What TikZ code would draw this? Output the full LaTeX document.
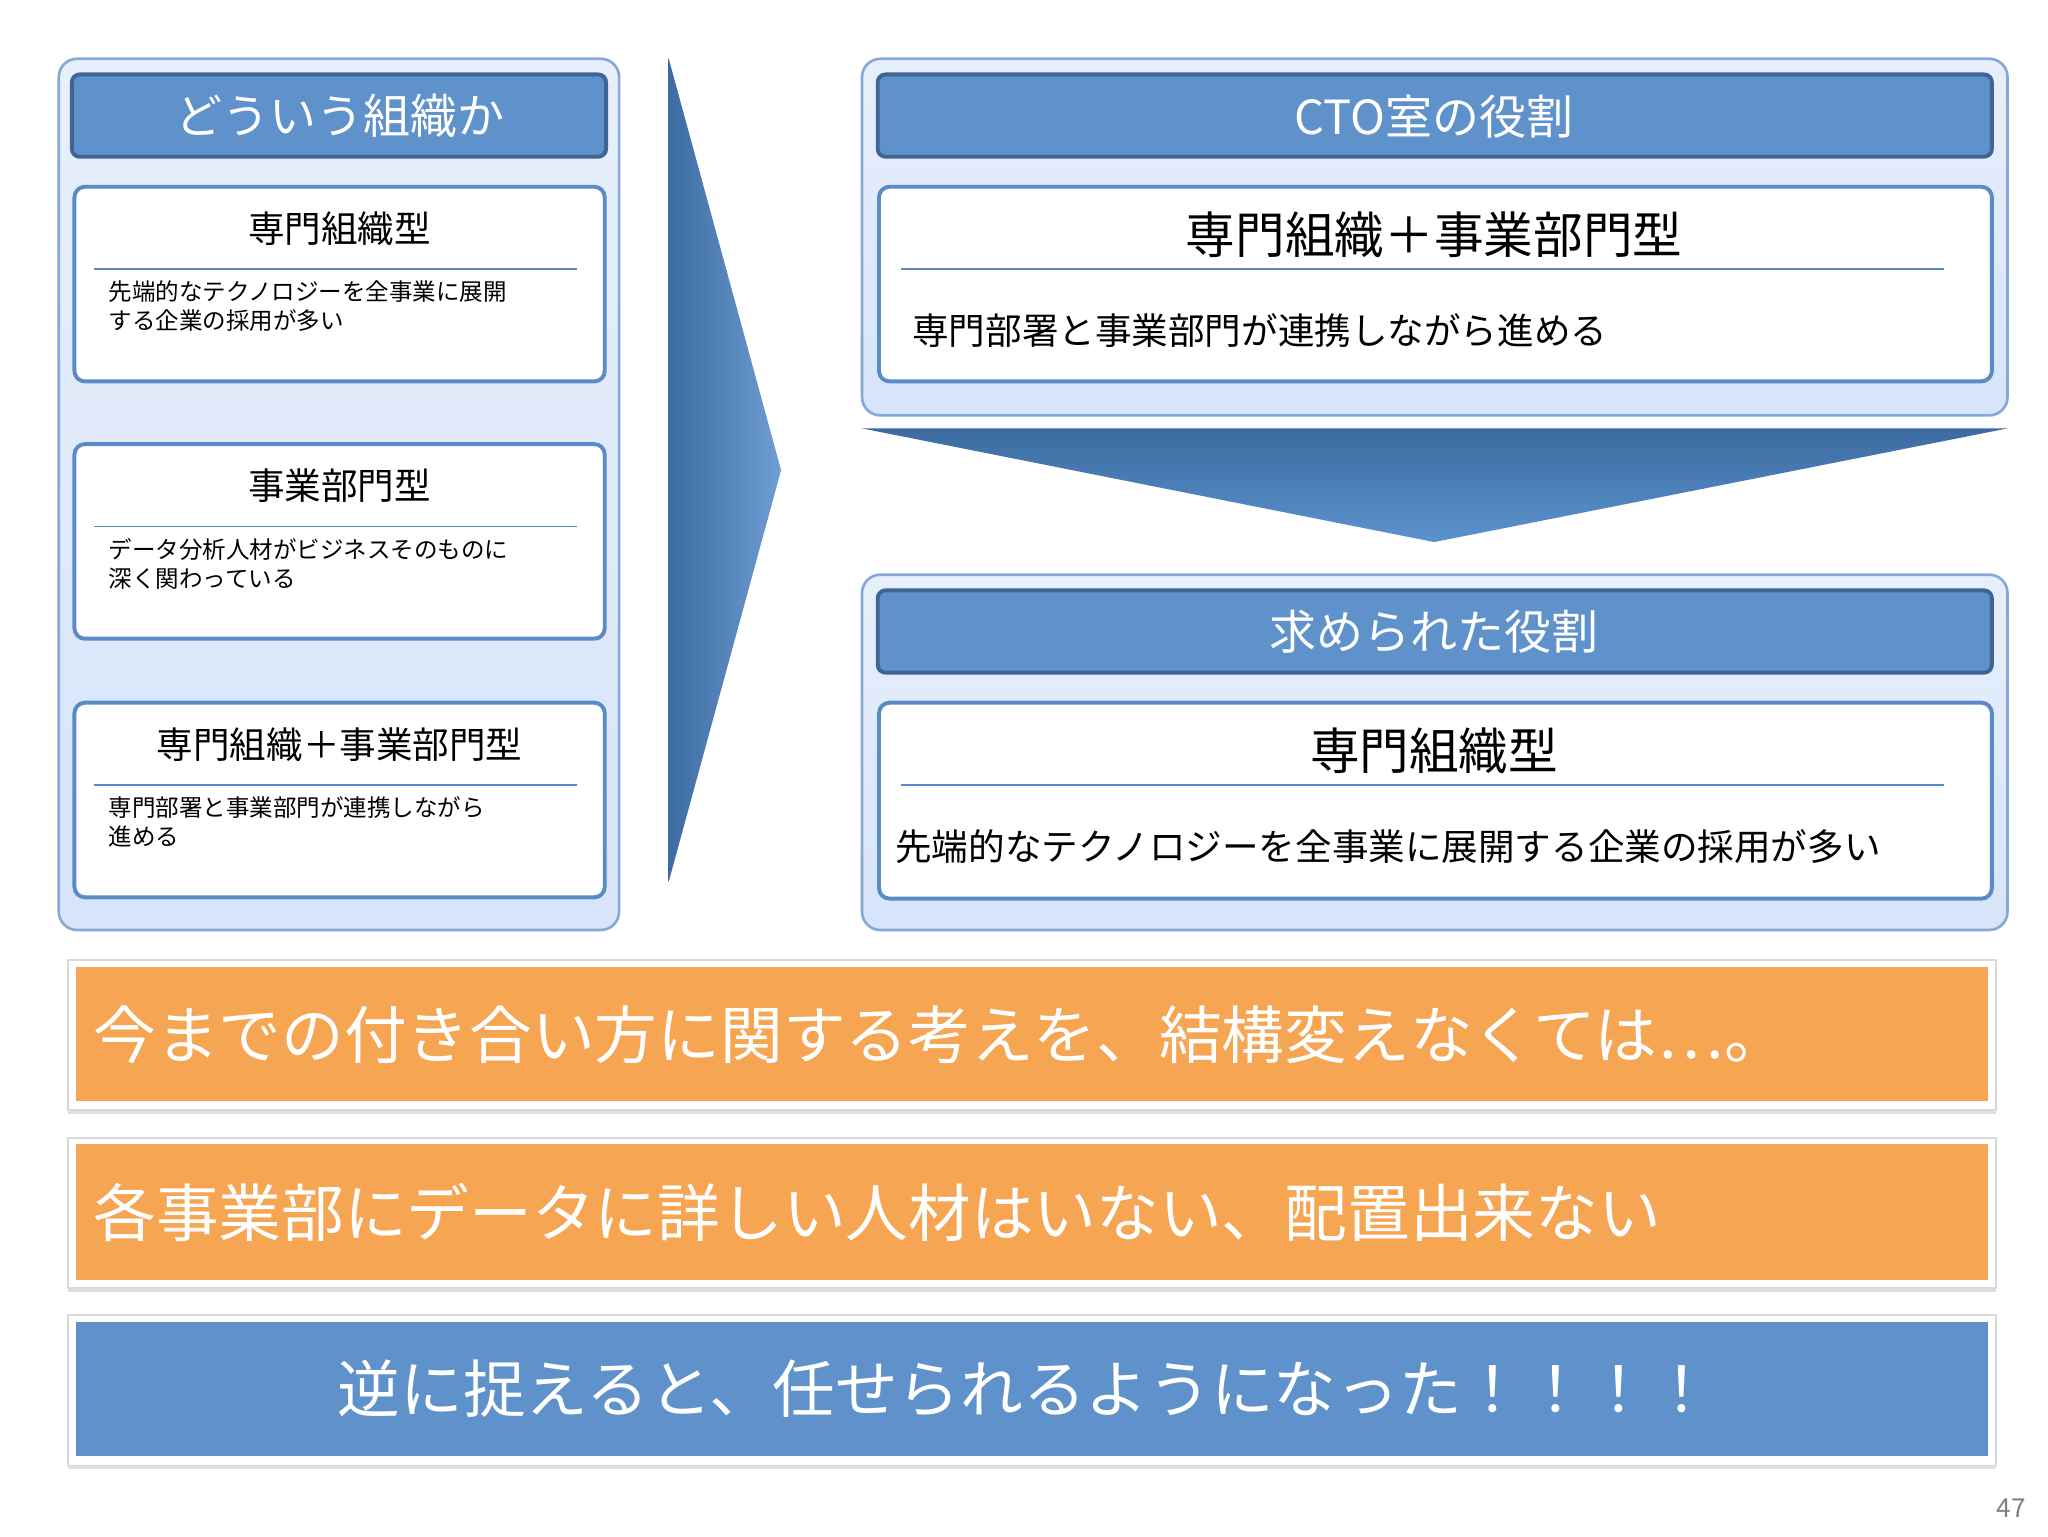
\documentclass[tikz,border=0pt]{standalone}
\usepackage{fontspec}
\setmainfont{Noto Sans CJK JP}
\usetikzlibrary{shadows}
\definecolor{hdr}{HTML}{5F91CA}
\definecolor{hdrb}{HTML}{3F6596}
\definecolor{pnl}{HTML}{D7E4F9}
\definecolor{pnlb}{HTML}{86A8D8}
\definecolor{bxb}{HTML}{5B8BC6}
\definecolor{org}{HTML}{F6A553}
\definecolor{arr}{HTML}{4A86C8}
\tikzset{
 panel/.style={draw=pnlb,line width=2pt,rounded corners=14pt,top color=pnl!60,bottom color=pnl},
 hdrbox/.style={draw=hdrb,line width=3pt,fill=hdr,rounded corners=6pt},
 wbox/.style={draw=bxb,line width=3pt,fill=white,rounded corners=8pt},
 frame/.style={draw=black!15,line width=1.5pt,fill=white,drop shadow={opacity=0.25,shadow xshift=0pt,shadow yshift=-3pt}},
 htxt/.style={text=white,font=\fontsize{36}{40}\selectfont},
 btxt/.style={text=white,font=\fontsize{48}{54}\selectfont,anchor=west},
}
\begin{document}
\begin{tikzpicture}[x=1pt,y=-1pt]
\useasboundingbox (0,0) rectangle (1568,1176);
\fill[white] (0,0) rectangle (1568,1176);
% left panel
\draw[panel] (45,45) rectangle (474,712);
\draw[hdrbox] (55,57) rectangle (464,120);
\node[htxt] (lh) at (260,89) {どういう組織か};
\foreach \y/\t/\a/\b [count=\i] in {143/専門組織型/先端的なテクノロジーを全事業に展開/する企業の採用が多い,340/事業部門型/データ分析人材がビジネスそのものに/深く関わっている,538/専門組織＋事業部門型/専門部署と事業部門が連携しながら/進める}{
 \draw[wbox] (57,\y) rectangle (463,\y+149);
 \node[font=\fontsize{28}{32}\selectfont] (lt\i) at (260,\y+32) {\t};
 \draw[bxb,line width=1pt] (72,\y+63) -- (442,\y+63);
 \node[anchor=north west,align=left,font=\fontsize{18}{22}\selectfont,inner sep=0pt] (ld\i) at (83,\y+72) {\a\\\b};
}
% big right arrow
\shade[left color=arr!80!black,right color=arr!80] (512,45) -- (598,360) -- (512,675) -- cycle;
% right top
\draw[panel] (660,45) rectangle (1537,318);
\draw[hdrbox] (672,57) rectangle (1525,120);
\node[htxt] (rh1) at (1098,89) {CTO室の役割};
\draw[wbox] (673,143) rectangle (1525,292);
\node[font=\fontsize{38}{42}\selectfont] (rt1) at (1098,180) {専門組織＋事業部門型};
\draw[bxb,line width=1pt] (690,206) -- (1488,206);
\node[anchor=west,font=\fontsize{28}{32}\selectfont] (rd1) at (695,253) {専門部署と事業部門が連携しながら進める};
% down arrow
\shade[top color=arr!80!black,bottom color=arr!90] (660,328) -- (1537,328) -- (1098,415) -- cycle;
% right bottom
\draw[panel] (660,440) rectangle (1537,712);
\draw[hdrbox] (672,452) rectangle (1525,515);
\node[htxt] (rh2) at (1098,484) {求められた役割};
\draw[wbox] (673,538) rectangle (1525,688);
\node[font=\fontsize{38}{42}\selectfont] (rt2) at (1098,575) {専門組織型};
\draw[bxb,line width=1pt] (690,601) -- (1488,601);
\node[anchor=west,font=\fontsize{28}{32}\selectfont] (rd2) at (682,648) {先端的なテクノロジーを全事業に展開する企業の採用が多い};
% bars
\draw[frame] (52,735) rectangle (1528,850);
\fill[org] (58,740) rectangle (1522,843);
\node[btxt] (b1) at (68,792) {今までの付き合い方に関する考えを、結構変えなくては…。};
\draw[frame] (52,871) rectangle (1528,986);
\fill[org] (58,876) rectangle (1522,980);
\node[btxt] (b2) at (68,928) {各事業部にデータに詳しい人材はいない、配置出来ない};
\draw[frame] (52,1007) rectangle (1528,1122);
\fill[hdr] (58,1012) rectangle (1522,1115);
\node[text=white,font=\fontsize{48}{54}\selectfont] (b3) at (785,1063) {逆に捉えると、任せられるようになった！！！！};
\node[text=black!50,font=\fontsize{20}{24}\selectfont] (pg) at (1540,1155) {47};
\end{tikzpicture}
\end{document}
